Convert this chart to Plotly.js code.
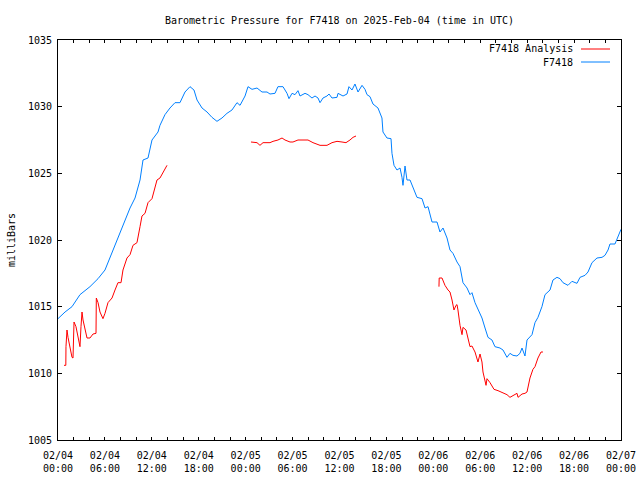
<!DOCTYPE html>
<html>
<head>
<meta charset="utf-8">
<script src="https://cdn.plot.ly/plotly-3.0.1.min.js"></script>
<style>html,body{margin:0;padding:0;background:#fff;}#chart{width:640px;height:480px;}</style>
</head>
<body>
<div id="chart"></div>
<script>
// Hours after 2025-02-04 00:00 UTC
const stationHours = [
  0,0.9,1.79,2.81,4.09,5.12,6.01,6.65,7.29,7.93,8.57,
  9.21,9.85,10.49,10.87,11.51,12.02,12.79,13.04,13.68,14.32,
  14.96,15.60,16.24,16.88,17.39,17.78,18.42,19.06,19.69,20.33,
  20.97,21.61,22.25,22.89,23.28,23.92,24.30,24.81,25.45,26.09,
  26.73,27.11,27.75,28.13,28.77,29.29,29.54,29.93,30.31,30.69,
  30.95,31.59,31.97,32.48,32.87,33.25,33.51,33.89,34.40,34.66,
  35.04,35.68,35.81,36.45,36.96,37.21,37.60,37.98,38.37,38.88,
  39.26,39.52,39.90,40.28,40.92,41.43,41.56,42.07,42.59,42.71,
  42.97,43.35,43.74,43.99,44.12,44.38,44.63,45.02,45.40,45.91,
  46.55,46.94,47.32,47.83,48.47,48.85,49.24,49.75,50.13,50.51,
  51.03,51.41,51.79,52.31,52.69,52.94,53.33,53.71,54.22,54.61,
  54.99,55.50,55.88,56.52,56.91,57.42,57.80,58.19,58.70,59.08,
  59.34,59.72,59.98,60.62,61.00,61.38,61.89,62.28,62.92,63.30,
  63.81,64.20,64.58,65.22,65.73,66.37,66.76,67.40,67.78,68.29,
  68.93,69.57,69.95,70.34,70.59,71.23,71.49,71.87,72.0
];
const stationPressure = [
  1014.1,1014.6,1015.0,1015.9,1016.5,1017.1,1017.75,1018.7,1019.6,1020.5,1021.5,
  1022.4,1023.15,1024.5,1026.0,1026.15,1027.5,1028.1,1028.6,1029.4,1029.9,
  1030.3,1030.3,1031.1,1031.5,1031.25,1030.5,1029.9,1029.6,1029.2,1028.9,
  1029.15,1029.5,1029.75,1030.3,1030.1,1030.8,1031.5,1031.3,1031.4,1031.1,
  1031.1,1030.95,1031.0,1031.5,1031.5,1031.0,1030.6,1031.0,1030.9,1031.2,
  1030.8,1031.0,1030.9,1030.65,1030.8,1030.65,1030.3,1030.65,1030.8,1030.95,
  1030.65,1030.7,1031.0,1030.8,1030.95,1031.5,1031.25,1031.7,1031.1,1031.6,
  1031.3,1030.9,1030.75,1030.2,1029.9,1029.15,1028.1,1027.65,1027.6,1026.5,
  1025.6,1025.25,1025.4,1024.7,1024.1,1025.55,1024.5,1024.5,1024.0,1023.2,
  1023.1,1022.4,1022.5,1021.35,1021.35,1020.6,1020.9,1020.15,1019.25,1019.0,
  1018.35,1018.0,1016.8,1016.4,1015.9,1016.05,1015.3,1014.75,1014.15,1013.4,
  1012.7,1012.5,1012.0,1011.9,1011.75,1011.2,1011.5,1011.35,1011.3,1011.5,
  1011.9,1011.3,1012.5,1012.9,1013.8,1014.2,1015.0,1015.9,1016.25,1017.0,
  1017.2,1017.1,1016.8,1016.6,1016.9,1016.75,1017.2,1017.35,1017.6,1018.3,
  1018.65,1018.7,1018.85,1019.25,1019.7,1019.7,1020.05,1020.5,1020.8
];

// Analysis: three separate segments
const analysisHours1 = [0.77,1.0,1.02,1.15,1.28,1.53,1.79,1.92,2.0,2.05,2.30,2.56,2.81,2.94,3.07,3.20,3.45,3.71,4.09,4.48,4.86,4.9,5.12,5.37,5.75,6.01,6.39,6.91,7.29,7.67,8.06,8.31,8.82,9.21,9.59,10.10,10.49,10.74,11.13,11.51,12.02,12.40,12.66,13.04,13.43,13.81,13.94];
const analysisPressure1 = [1010.6,1010.6,1012.0,1013.25,1012.7,1012.0,1011.2,1011.15,1012.5,1013.85,1013.5,1012.7,1012.0,1013.5,1014.6,1014.0,1013.4,1012.65,1012.65,1012.95,1013.0,1015.65,1015.3,1014.6,1014.1,1014.5,1015.3,1015.65,1016.25,1016.8,1016.8,1017.75,1018.65,1018.9,1019.6,1019.8,1021.0,1021.8,1022.0,1022.8,1023.1,1023.9,1024.5,1024.65,1025.1,1025.55,1025.6];
const analysisHours2 = [24.68,25.45,25.83,26.22,27.11,27.50,28.13,28.65,29.03,29.67,30.05,30.69,31.97,32.61,33.51,34.40,35.04,35.68,36.32,36.83,37.34,37.73,38.11];
const analysisPressure2 = [1027.35,1027.3,1027.1,1027.3,1027.3,1027.4,1027.5,1027.65,1027.5,1027.35,1027.35,1027.5,1027.5,1027.3,1027.1,1027.1,1027.3,1027.4,1027.35,1027.3,1027.5,1027.7,1027.8];
const analysisHours3 = [48.72,48.75,49.11,49.49,49.88,50.13,50.39,50.64,50.90,51.03,51.15,51.41,51.67,51.79,52.18,52.43,52.69,52.94,53.33,53.71,53.97,54.22,54.35,54.74,54.86,55.25,55.76,56.27,56.91,57.42,57.80,58.19,58.70,58.83,59.34,59.72,59.98,60.36,60.74,61.00,61.38,61.77,62.02];
const analysisPressure3 = [1016.5,1017.15,1017.15,1016.6,1016.25,1016.1,1015.5,1014.75,1015.1,1015.15,1014.75,1013.6,1012.9,1013.45,1013.25,1012.5,1012.0,1012.05,1011.6,1010.85,1011.45,1010.85,1010.1,1009.1,1009.6,1009.3,1008.8,1008.7,1008.5,1008.4,1008.2,1008.35,1008.5,1008.2,1008.45,1008.5,1008.6,1009.65,1010.3,1010.5,1011.15,1011.6,1011.6];

const seriesNames = ['F7418 Analysis', 'F7418'];
const titleText = 'Barometric Pressure for F7418 on 2025-Feb-04 (time in UTC)';
const yTitle = 'milliBars';

const START = Date.UTC(2025, 1, 4);
const toTime = h => h === null ? null : START + h * 3600000;

const aX = [].concat(analysisHours1, [null], analysisHours2, [null], analysisHours3).map(toTime);
const aY = [].concat(analysisPressure1, [null], analysisPressure2, [null], analysisPressure3);

const FONT = 'DejaVu Sans Mono, Liberation Mono, monospace';
const RED = '#ff0000', BLUE = '#0080ff';

const traces = [
  {x: aX, y: aY, type: 'scatter', mode: 'lines', name: seriesNames[0],
   line: {color: RED, width: 1}, connectgaps: false, showlegend: false},
  {x: stationHours.map(toTime), y: stationPressure, type: 'scatter', mode: 'lines', name: seriesNames[1],
   line: {color: BLUE, width: 1}, showlegend: false}
];

const layout = {
  width: 640, height: 480,
  margin: {l: 58, r: 19, t: 40, b: 40, pad: 0},
  paper_bgcolor: '#fff', plot_bgcolor: '#fff',
  font: {family: FONT, size: 10, color: '#000'},
  title: {text: titleText, x: 0.5, xref: 'paper', xanchor: 'center', y: 1 - 20/480, yref: 'container', yanchor: 'middle',
          font: {family: FONT, size: 10, color: '#000'}},
  xaxis: {
    type: 'date', range: [START, START + 72*3600000], autorange: false,
    dtick: 6*3600000, tick0: START, tickformat: '%m/%d<br>%H:%M',
    ticks: 'inside', ticklen: 3, tickwidth: 1, tickcolor: '#000',
    minor: {dtick: 2*3600000, ticks: 'inside', ticklen: 3, tickcolor: '#000', showgrid: false},
    showline: true, linecolor: '#000', linewidth: 1, mirror: 'ticks',
    showgrid: false, zeroline: false, fixedrange: true,
    ticklabelstandoff: 6,
    tickfont: {family: FONT, size: 10, color: '#000'}
  },
  yaxis: {
    range: [1005, 1035], autorange: false, dtick: 5, tick0: 1005,
    ticks: 'inside', ticklen: 4, tickwidth: 1, tickcolor: '#000',
    showline: true, linecolor: '#000', linewidth: 1, mirror: 'ticks',
    showgrid: false, zeroline: false, fixedrange: true,
    tickfont: {family: FONT, size: 10, color: '#000'},
    ticklabelstandoff: 3,
    title: {text: yTitle, standoff: 10, font: {family: FONT, size: 10, color: '#000'}}
  },
  annotations: [
    {xref: 'paper', yref: 'paper', x: (575-58)/563, y: (440-49)/400, xanchor: 'right', yanchor: 'middle',
     text: seriesNames[0], showarrow: false, font: {family: FONT, size: 10, color: '#000'}},
    {xref: 'paper', yref: 'paper', x: (575-58)/563, y: (440-62)/400, xanchor: 'right', yanchor: 'middle',
     text: seriesNames[1], showarrow: false, font: {family: FONT, size: 10, color: '#000'}}
  ],
  shapes: [
    {type: 'line', xref: 'paper', yref: 'paper', x0: (581-58)/563, x1: (610-58)/563, y0: (440-49)/400, y1: (440-49)/400,
     line: {color: RED, width: 1}},
    {type: 'line', xref: 'paper', yref: 'paper', x0: (581-58)/563, x1: (610-58)/563, y0: (440-62)/400, y1: (440-62)/400,
     line: {color: BLUE, width: 1}}
  ],
  showlegend: false
};

Plotly.newPlot('chart', traces, layout, {staticPlot: true, displayModeBar: false});
</script>
</body>
</html>
